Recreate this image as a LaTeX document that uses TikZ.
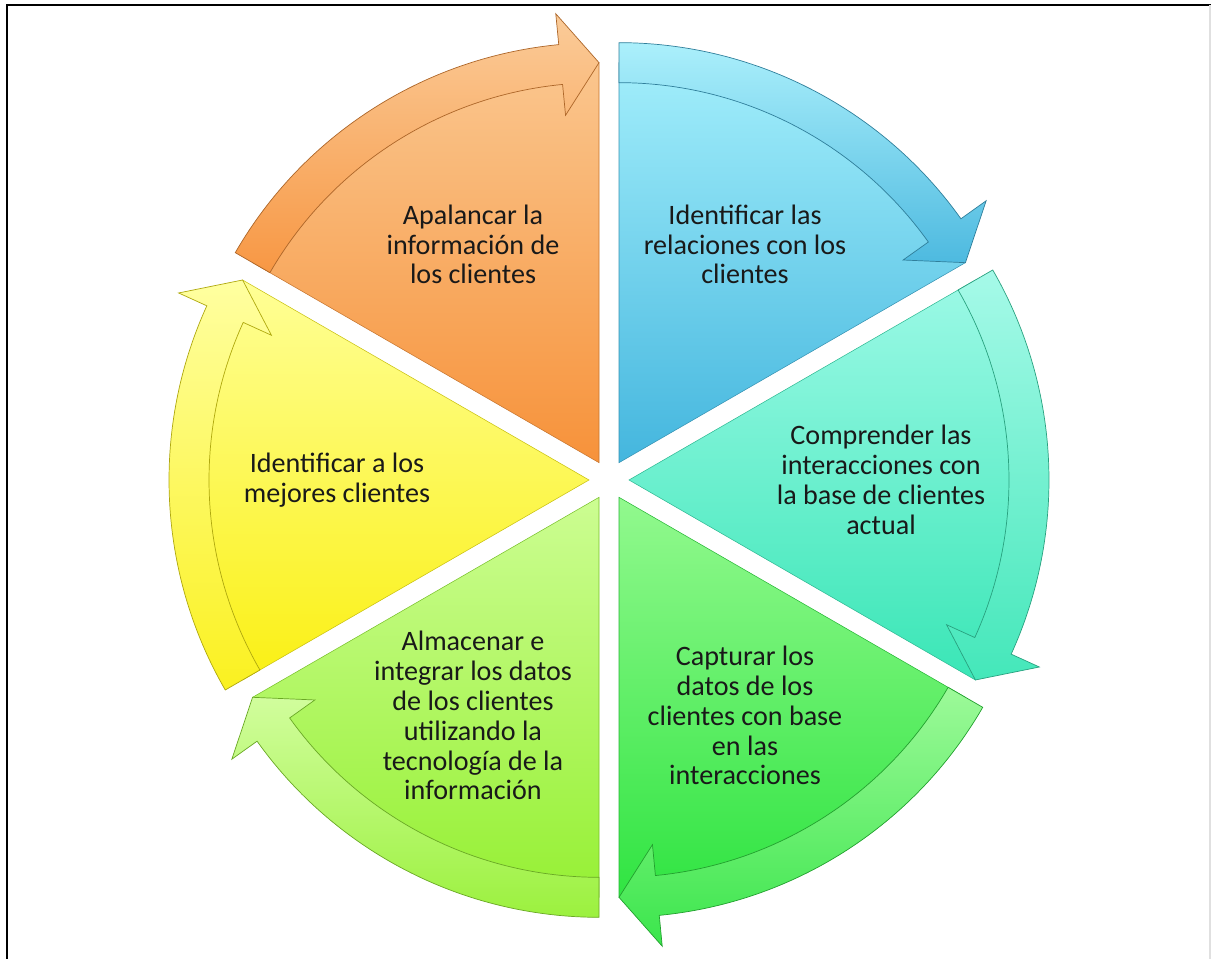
\documentclass[tikz,border=0pt]{standalone}
\usepackage{fontspec}
\setmainfont{Carlito}
\usepackage{tikz}

\definecolor{oraT}{RGB}{250,198,142}
\definecolor{oraB}{RGB}{247,146,58}
\definecolor{bluT}{RGB}{162,238,251}
\definecolor{bluB}{RGB}{68,182,222}
\definecolor{teaT}{RGB}{156,249,230}
\definecolor{teaB}{RGB}{58,230,182}
\definecolor{grnT}{RGB}{146,249,142}
\definecolor{grnB}{RGB}{48,228,66}
\definecolor{limT}{RGB}{204,253,146}
\definecolor{limB}{RGB}{150,240,52}
\definecolor{yelT}{RGB}{255,255,150}
\definecolor{yelB}{RGB}{250,240,20}

\begin{document}
\begin{tikzpicture}[x=0.02cm,y=0.02cm,
  steptext/.style={align=center,text=black!90,font=\fontsize{16}{17}\selectfont}]
  \useasboundingbox (0,0) rectangle (1211,959);
  % frame
  \draw[line width=1.1pt] (7,0) -- (7,954) -- (1211,954);
  \draw[black!12,line width=0.6pt] (1210,0) -- (1210,954);
  % six wedges, each with a clockwise arrow on its rim
  \foreach \st/\ca/\cb/\txt [count=\i] in {
      150/oraT/oraB/{Apalancar la\\información de\\los clientes},
      90/bluT/bluB/{Identificar las\\relaciones con los\\clientes},
      30/teaT/teaB/{Comprender las\\interacciones con\\la base de clientes\\actual},
      -30/grnT/grnB/{Capturar los\\datos de los\\clientes con base\\en las\\interacciones},
      -90/limT/limB/{Almacenar e\\integrar los datos\\de los clientes\\utilizando la\\tecnología de la\\información},
      -150/yelT/yelB/{Identificar a los\\mejores clientes}}
  {
    \pgfmathsetmacro\en{\st-60}
    \pgfmathsetmacro\md{\st-30}
    \pgfmathsetmacro\hd{\st-54.5}
    \begin{scope}[shift={(609,479)},shift={(\md:20)}]
      \shadedraw[top color=\ca,bottom color=\cb,draw=\cb!80!black,line width=0.3pt]
        (0,0) -- (\st:400) arc[start angle=\st,end angle=\en,radius=400] -- cycle;
      \shadedraw[top color=\ca!90!white,bottom color=\cb!95!white,draw=\cb!70!black,line width=0.4pt]
        (\st:420) arc[start angle=\st,end angle=\hd,radius=420]
        -- (\hd:451) -- (\en:400) -- (\hd:349) -- (\hd:380)
        arc[start angle=\hd,end angle=\st,radius=380] -- cycle;
      \node[steptext] (step\i) at (\md:252) {\txt};
    \end{scope}
  }
\end{tikzpicture}
\end{document}
